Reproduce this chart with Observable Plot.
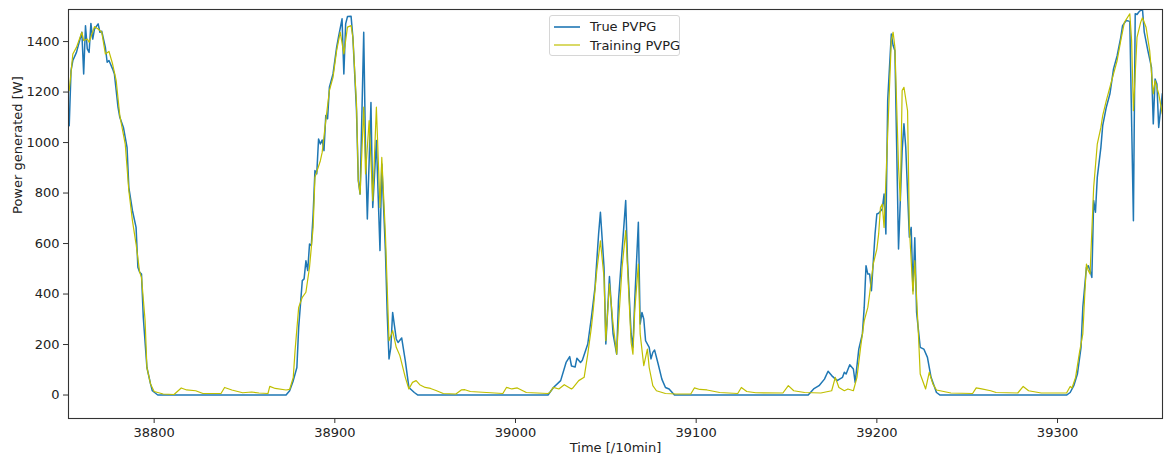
<!DOCTYPE html>
<html>
<head>
<meta charset="utf-8">
<script src="https://cdn.jsdelivr.net/npm/d3@7"></script>
<script src="https://cdn.jsdelivr.net/npm/@observablehq/plot@0.6"></script>
<style>
  html, body { margin: 0; padding: 0; background: #fff; }
  #wrap { position: relative; width: 1170px; height: 456px; font-family: "DejaVu Sans", sans-serif; }
  #legend {
    position: absolute; left: 549px; top: 15px; width: 131px; height: 41px;
    border: 1px solid #d6d6d6; border-radius: 3px; background: rgba(255,255,255,0.85);
    font-size: 13px; color: #222; box-sizing: border-box;
  }
  #legend .row { position: absolute; left: 0; height: 18px; display: flex; align-items: center; }
  #legend .row span { margin-left: 8px; white-space: nowrap; }
</style>
</head>
<body>
<div id="wrap">
  <div id="chart"></div>
  <div id="legend">
    <div class="row" style="top:1.5px"><svg width="32" height="18"><line x1="4" x2="30" y1="9" y2="9" stroke="#1f77b4" stroke-width="1.6"/></svg><span>True PVPG</span></div>
    <div class="row" style="top:20px"><svg width="32" height="18"><line x1="4" x2="30" y1="9" y2="9" stroke="#bfbf00" stroke-width="1.2"/></svg><span>Training PVPG</span></div>
  </div>
</div>
<script>
// Measured PV power generation (W) per 10-minute step
const trueTime = [38753,38754,38755,38757,38760,38761,38762,38763,38764,38765,38766,38767,38769,38770,38771,38773,38774,38775,38777,38778,38780,38781,38783,38785,38786,38788,38790,38791,38792,38793,38794,38796,38798,38799,38802,
  38873,38875,38877,38879,38880,38882,38883,38884,38885,38886,38887,38888,38889,38890,38891,38892,38893,38894,38895,38896,38897,38899,38901,38902,38904,38905,38906,38907,38909,38910,38912,38913,38914,38916,38917,38918,38920,38921,38923,38925,38926,38928,38929,38930,38931,38932,38934,38935,38937,38939,38941,38944,38946,
  39018,39021,39025,39028,39030,39031,39033,39034,39036,39037,39040,39042,39044,39046,39047,39049,39050,39052,39054,39056,39057,39059,39061,39062,39064,39065,39066,39068,39069,39070,39071,39072,39074,39075,39076,39077,39079,39081,39083,39085,39088,
  39162,39165,39168,39171,39173,39175,39178,39181,39182,39183,39185,39187,39188,39190,39192,39193,39194,39195,39196,39197,39199,39200,39201,39203,39204,39205,39206,39208,39209,39210,39212,39214,39215,39216,39218,39219,39220,39221,39222,39224,39226,39228,39230,39233,39235,
  39305,39307,39309,39311,39313,39314,39316,39317,39318,39319,39320,39321,39322,39324,39325,39327,39329,39331,39333,39335,39336,39338,39340,39342,39343,39344,39345,39347,39348,39350,39352,39353,39354,39355,39356,39358];
const truePower = [1067,1285,1325,1357,1437,1272,1463,1371,1357,1472,1410,1450,1470,1437,1441,1377,1318,1325,1292,1272,1140,1100,1060,981,822,730,664,506,486,479,307,109,44,17,0,
  0,17,57,109,268,453,460,532,493,598,592,717,889,876,1014,994,1010,968,1107,1094,1219,1272,1377,1417,1490,1272,1470,1499,1500,1417,1126,849,796,1437,968,697,1159,743,1008,572,915,572,321,143,189,327,222,208,226,136,30,10,0,
  0,30,57,129,152,115,111,146,129,138,202,307,426,638,724,506,202,469,242,162,374,572,770,532,242,189,374,684,281,327,301,215,189,143,169,178,122,63,30,24,0,
  0,24,37,63,94,77,57,70,90,83,120,103,50,182,242,347,512,479,479,413,638,717,720,737,796,638,1166,1430,1384,1364,578,968,1074,981,625,664,413,623,327,189,182,149,70,10,0,
  0,10,37,83,189,347,506,512,493,466,770,724,862,981,1067,1140,1193,1292,1344,1417,1463,1483,1480,690,1510,1507,1517,1530,1437,1364,1298,1074,1252,1232,1060,1193];

// Model output on the training set
const trainTime = [38753,38755,38757,38760,38761,38763,38764,38767,38769,38771,
  38773,38775,38777,38779,38781,38784,38786,38788,38790,38792,
  38793,38795,38796,38798,38800,38805,38811,38815,38818,38823,
  38827,38837,38839,38843,38849,38854,38858,38863,38864,38867,
  38873,38875,38877,38878,38880,38882,38884,38886,38888,38889,
  38892,38893,38895,38897,38899,38901,38903,38905,38907,38909,
  38910,38912,38913,38914,38916,38917,38919,38921,38923,38925,
  38926,38928,38930,38932,38934,38936,38939,38941,38943,38945,
  38947,38950,38953,38956,38960,38967,38970,38972,38975,38993,
  38995,38998,39001,39006,39018,39019,39021,39024,39027,39031,
  39032,39035,39038,39040,39042,39043,39045,39047,39049,39050,
  39052,39054,39056,39057,39059,39061,39062,39064,39065,39066,
  39068,39069,39071,39073,39074,39076,39078,39083,39089,39097,
  39099,39102,39106,39113,39123,39125,39128,39133,39148,39151,
  39154,39160,39169,39175,39177,39179,39182,39184,39187,39189,
  39191,39193,39195,39196,39198,39200,39201,39202,39203,39204,
  39206,39208,39209,39210,39212,39213,39214,39215,39217,39218,
  39220,39221,39223,39224,39227,39229,39231,39233,39241,39253,
  39255,39258,39263,39266,39278,39281,39284,39291,39305,39307,
  39308,39310,39312,39314,39315,39316,39317,39318,39320,39322,
  39324,39325,39327,39329,39331,39333,39335,39337,39340,39341,
  39342,39344,39346,39347,39349,39351,39353,39354,39356,39358];
const trainPower = [1206,1351,1377,1437,1404,1410,1397,1459,1450,1437,
  1351,1361,1311,1245,1107,994,809,690,598,486,
  466,294,109,44,14,4,2,28,20,17,
  6,6,30,20,9,12,8,6,34,26,
  20,22,70,176,347,387,407,506,664,862,
  928,961,1087,1206,1258,1364,1437,1351,1457,1463,
  1417,1153,849,796,1140,876,1087,770,1140,743,
  941,638,215,255,189,156,70,24,50,57,
  41,30,26,18,6,4,20,21,14,6,
  30,24,28,10,6,10,30,24,41,24,
  30,57,70,162,268,334,493,611,466,215,
  440,281,162,281,506,651,506,208,162,334,
  519,242,116,182,109,37,17,6,4,4,
  28,22,20,10,6,30,14,9,8,37,
  17,10,8,17,70,30,17,24,17,70,
  189,294,347,400,519,578,638,743,756,664,
  1034,1404,1437,1377,902,770,1206,1219,1126,664,
  400,532,242,83,24,90,44,20,8,6,
  28,24,17,10,8,34,17,8,8,34,
  28,70,162,242,387,519,493,479,822,994,
  1060,1107,1166,1219,1272,1325,1404,1476,1510,1404,
  1126,1417,1476,1494,1457,1364,1193,1245,1193,1113];

// Axis ticks
const xTicks = [38800, 38900, 39000, 39100, 39200, 39300];
const yTicks = [0, 200, 400, 600, 800, 1000, 1200, 1400];

const trueRows = trueTime.map((t, i) => ({t, w: truePower[i]}));
const trainRows = trainTime.map((t, i) => ({t, w: trainPower[i]}));

const axisColor = "#333";
const chart = Plot.plot({
  width: 1170,
  height: 456,
  marginLeft: 68,
  marginRight: 8,
  marginTop: 9,
  marginBottom: 38,
  style: {fontFamily: "DejaVu Sans, sans-serif", fontSize: "13px", color: "#222", background: "#fff"},
  x: {domain: [38752.6, 39358.1]},
  y: {domain: [-93, 1527]},
  marks: [
    Plot.line(trueRows, {x: "t", y: "w", stroke: "#1f77b4", strokeWidth: 1.5, clip: true}),
    Plot.line(trainRows, {x: "t", y: "w", stroke: "#bfbf00", strokeWidth: 1.2, clip: true}),
    Plot.frame({stroke: axisColor, strokeWidth: 1.1}),
    Plot.axisX({ticks: xTicks, tickFormat: d => String(d), tickSize: 5, tickPadding: 4, label: null, stroke: axisColor}),
    Plot.axisY({ticks: yTicks, tickFormat: d => String(d), tickSize: 5, tickPadding: 4, label: null, stroke: axisColor}),
    Plot.text(["Time [/10min]"], {frameAnchor: "bottom", dy: 33, fontSize: 13, fill: "#222"}),
    Plot.text(["Power generated [W]"], {frameAnchor: "left", dx: -51, rotate: -90, fontSize: 13, fill: "#222"})
  ]
});
document.getElementById("chart").appendChild(chart);
</script>
</body>
</html>
